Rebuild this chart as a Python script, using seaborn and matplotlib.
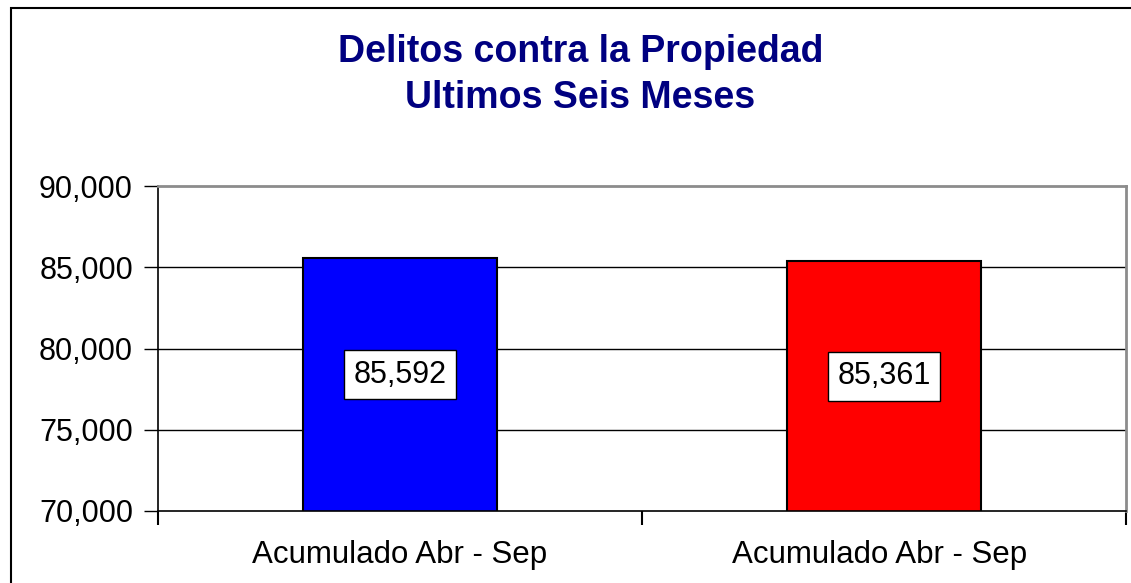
import matplotlib
matplotlib.use("Agg")
import matplotlib.pyplot as plt
import matplotlib.ticker as mticker
from matplotlib.patches import Rectangle
import seaborn as sns
import pandas as pd

# DATA
categorias = ["Acumulado Abr - Sep", "Acumulado Abr - Sep "]
valores = [85592, 85361]
colores = ["#0000FF", "#FF0000"]
titulo = "Delitos contra la Propiedad\nUltimos Seis Meses"

df = pd.DataFrame({"cat": categorias, "valor": valores})

sns.set_style("white")
plt.rcParams["font.family"] = ["Liberation Sans", "DejaVu Sans"]
plt.rcParams["text.color"] = "black"
plt.rcParams["xtick.color"] = "black"
plt.rcParams["ytick.color"] = "black"

fig = plt.figure(figsize=(11.31, 5.83), dpi=100)
ax = fig.add_axes([158 / 1131, 1 - 511 / 583, (1126 - 158) / 1131, (511 - 186) / 583])

sns.barplot(x="cat", y="valor", data=df, hue="cat", palette=colores, legend=False,
            width=0.40, edgecolor="black", linewidth=1.5, saturation=1, ax=ax)

ax.set_ylim(70000, 90000)
ax.set_xlim(-0.5, 1.5)
ax.yaxis.set_major_locator(mticker.MultipleLocator(5000))
ax.yaxis.set_major_formatter(mticker.FuncFormatter(lambda v, p: f"{int(v):,}"))
ax.set_xlabel("")
ax.set_ylabel("")

# gridlines
for y in [75000, 80000, 85000]:
    ax.axhline(y, color="black", lw=1, zorder=0)

for s in ["top", "right"]:
    ax.spines[s].set_color("#8c8c8c")
    ax.spines[s].set_linewidth(2)
for s in ["left", "bottom"]:
    ax.spines[s].set_color("black")
    ax.spines[s].set_linewidth(1.2)

ax.tick_params(axis="y", labelsize=22, length=10, width=1, direction="out", left=True, pad=8)
ax.tick_params(axis="x", which="major", labelsize=22.5, length=0, pad=21)
ax.set_xticks([-0.5, 0.5, 1.5], minor=True)
ax.tick_params(axis="x", which="minor", length=10, width=1.5, direction="out", bottom=True)

# value labels
for i, v in enumerate(valores):
    ax.annotate(f"{v:,}", xy=(i, (70000 + v) / 2), xytext=(0, 7), textcoords="offset points",
                ha="center", va="center", fontsize=22,
                bbox=dict(boxstyle="square,pad=0.32", fc="white", ec="black", lw=1))

fig.text(0.513, 1 - 75 / 583, titulo, ha="center", va="center", fontsize=27,
         fontweight="bold", color="#000080", linespacing=1.35)

# outer chart border (only top/left visible in the reference)
fig.patches.append(Rectangle((11 / 1131, -0.05), 1.1, 1 - 8 / 583 + 0.05,
                             transform=fig.transFigure, fill=False, ec="black", lw=1.5))

fig.savefig("out.png", dpi=100)
